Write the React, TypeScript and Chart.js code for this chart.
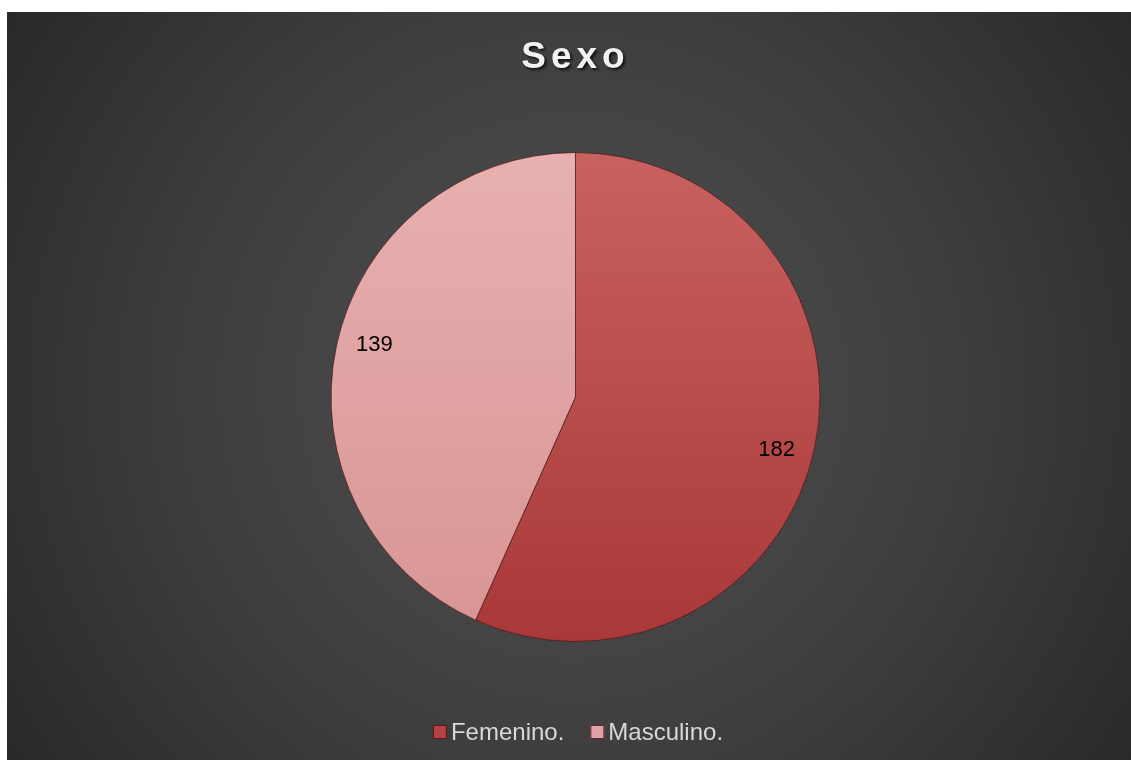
import React, { useEffect, useRef } from "react";
import { Chart, registerables } from "chart.js";

Chart.register(...registerables);

const chartTitle = "Sexo";
const categories = ["Femenino.", "Masculino."];
const values = [182, 139];
const topColors = ["#c8625f", "#e8b0b0"];
const bottomColors = ["#a93838", "#d89494"];
const legendColors = ["#b64242", "#e0a2a2"];

const W = 1124;
const H = 748;

const bgPlugin = {
  id: "bgPlugin",
  beforeDraw(chart: any) {
    const ctx = chart.ctx;
    ctx.save();
    const g = ctx.createRadialGradient(566, 375, 0, 566, 375, 720);
    g.addColorStop(0, "#525252");
    g.addColorStop(0.55, "#3d3d3d");
    g.addColorStop(1, "#262626");
    ctx.fillStyle = g;
    ctx.fillRect(0, 0, chart.width, chart.height);
    ctx.restore();
  },
};

const decorPlugin = {
  id: "decorPlugin",
  afterDraw(chart: any) {
    const ctx = chart.ctx;
    // title
    ctx.save();
    ctx.font = "bold 37px 'Liberation Sans', Arial, sans-serif";
    (ctx as any).letterSpacing = "5px";
    ctx.textAlign = "center";
    ctx.textBaseline = "alphabetic";
    ctx.shadowColor = "rgba(0,0,0,0.75)";
    ctx.shadowOffsetX = 2;
    ctx.shadowOffsetY = 2;
    ctx.shadowBlur = 3;
    ctx.fillStyle = "#f2f2f2";
    ctx.fillText(chartTitle, 566 + 2.5, 56);
    ctx.restore();

    // data labels
    const meta = chart.getDatasetMeta(0);
    ctx.save();
    ctx.font = "22px 'Liberation Sans', Arial, sans-serif";
    ctx.fillStyle = "#000000";
    ctx.textAlign = "center";
    ctx.textBaseline = "middle";
    meta.data.forEach((arc: any, i: number) => {
      const p = arc.getProps(["x", "y", "startAngle", "endAngle", "outerRadius"], true);
      const mid = (p.startAngle + p.endAngle) / 2 + 0.045;
      const r = p.outerRadius * 0.85;
      ctx.fillText(String(values[i]), p.x + Math.cos(mid) * r, p.y + Math.sin(mid) * r);
    });
    ctx.restore();

    // legend
    ctx.save();
    ctx.font = "24px 'Liberation Sans', Arial, sans-serif";
    ctx.textBaseline = "middle";
    const box = 14;
    const gap = 4;
    const itemGap = 26;
    const widths = categories.map((c) => ctx.measureText(c).width);
    const total = widths.reduce((a, w) => a + box + gap + w, 0) + itemGap * (categories.length - 1);
    let x = 571 - total / 2;
    const cy = 720;
    categories.forEach((c, i) => {
      ctx.fillStyle = legendColors[i];
      ctx.fillRect(x, cy - box / 2, box, box);
      ctx.strokeStyle = "rgba(60,10,10,0.8)";
      ctx.lineWidth = 1;
      ctx.strokeRect(x + 0.5, cy - box / 2 + 0.5, box - 1, box - 1);
      ctx.fillStyle = "#d9d9d9";
      ctx.fillText(c, x + box + gap, cy + 1);
      x += box + gap + widths[i] + itemGap;
    });
    ctx.restore();
  },
};

function sliceFill(context: any) {
  const chart = context.chart;
  const area = chart.chartArea;
  const i = context.dataIndex;
  if (!area) return legendColors[i];
  const cy = (area.top + area.bottom) / 2;
  const g = chart.ctx.createLinearGradient(0, cy - 245, 0, cy + 245);
  g.addColorStop(0, topColors[i]);
  g.addColorStop(1, bottomColors[i]);
  return g;
}

export default function App() {
  const ref = useRef<HTMLCanvasElement | null>(null);
  useEffect(() => {
    if (!ref.current) return;
    const chart = new Chart(ref.current, {
      type: "pie",
      data: {
        labels: categories,
        datasets: [
          {
            data: values,
            backgroundColor: sliceFill as any,
            borderColor: "rgba(70,20,20,0.7)",
            borderWidth: 1,
          },
        ],
      },
      options: {
        animation: false,
        responsive: false,
        maintainAspectRatio: false,
        radius: 244.5,
        layout: { padding: { top: 140, bottom: 118, left: 13, right: 0 } },
        plugins: {
          legend: { display: false },
          title: { display: false },
          tooltip: { enabled: false },
        },
      } as any,
      plugins: [bgPlugin, decorPlugin],
    });
    return () => chart.destroy();
  }, []);
  return (
    <div style={{ position: "absolute", left: 7, top: 12, width: W, height: H }}>
      <canvas ref={ref} width={W} height={H} style={{ display: "block", width: W, height: H }} />
    </div>
  );
}
